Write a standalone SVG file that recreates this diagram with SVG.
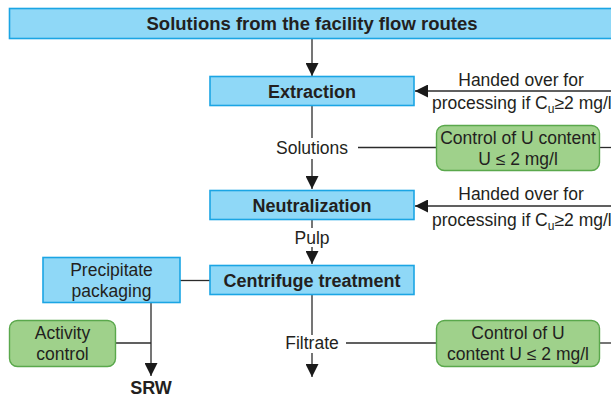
<svg xmlns="http://www.w3.org/2000/svg" width="611" height="398" viewBox="0 0 611 398">
<style>
.blue{fill:#8fd8f7;stroke:#1ba5e4;stroke-width:1.6}
.green{fill:#9fd18b;stroke:#5aa84c;stroke-width:1.4}
.t{font-family:"Liberation Sans",Arial,sans-serif;font-size:17.5px;fill:#231f20;text-anchor:middle}
.b{font-weight:bold;font-size:18px}
.l{text-anchor:start}
.ln{stroke:#2b2b2b;stroke-width:1.3;fill:none}
.sub{font-size:12px}
</style>
<defs>
<marker id="ah" markerUnits="userSpaceOnUse" markerWidth="14" markerHeight="13" refX="13" refY="6.5" orient="auto">
<path d="M0,0 L13,6.5 L0,13 z" fill="#1a1a1a"/>
</marker>
</defs>
<g id="connectors">
<line class="ln" x1="312" y1="39" x2="312" y2="76" marker-end="url(#ah)"/>
<line class="ln" x1="611" y1="91" x2="415" y2="91" marker-end="url(#ah)"/>
<line class="ln" x1="312" y1="105" x2="312" y2="138"/>
<line class="ln" x1="312" y1="159" x2="312" y2="189" marker-end="url(#ah)"/>
<line class="ln" x1="358" y1="147.5" x2="436" y2="147.5"/>
<line class="ln" x1="600" y1="147.5" x2="611" y2="147.5"/>
<line class="ln" x1="611" y1="206" x2="415" y2="206" marker-end="url(#ah)"/>
<line class="ln" x1="312" y1="220" x2="312" y2="228"/>
<line class="ln" x1="312" y1="247" x2="312" y2="264" marker-end="url(#ah)"/>
<line class="ln" x1="180" y1="280.5" x2="210" y2="280.5"/>
<line class="ln" x1="151" y1="302" x2="151" y2="376" marker-end="url(#ah)"/>
<line class="ln" x1="116" y1="343" x2="151" y2="343"/>
<line class="ln" x1="312" y1="295" x2="312" y2="335"/>
<line class="ln" x1="312" y1="353" x2="312" y2="377" marker-end="url(#ah)"/>
<line class="ln" x1="346" y1="343" x2="436" y2="343"/>
<line class="ln" x1="600" y1="343" x2="611" y2="343"/>
</g>
<g id="source">
<rect class="blue" x="9.5" y="8.5" width="610" height="30"/>
<text class="t b" x="312" y="29.5" style="font-size:18.5px">Solutions from the facility flow routes</text>
</g>
<g id="extraction">
<rect class="blue" x="210" y="76.5" width="204" height="29"/>
<text class="t b" x="312" y="97.5">Extraction</text>
</g>
<g id="handover1">
<text class="t" x="521" y="86">Handed over for</text>
<text class="t l" x="432" y="109">processing if C<tspan class="sub" dy="4">u</tspan><tspan dy="-4">≥2 mg/l</tspan></text>
</g>
<g id="solutions">
<text class="t" x="312" y="154">Solutions</text>
</g>
<g id="control1">
<rect class="green" x="436.5" y="125.5" width="163" height="45" rx="8"/>
<text class="t" x="518" y="144">Control of U content</text>
<text class="t" x="518" y="165">U ≤ 2 mg/l</text>
</g>
<g id="neutralization">
<rect class="blue" x="210" y="190.5" width="204" height="29"/>
<text class="t b" x="312" y="212">Neutralization</text>
</g>
<g id="handover2">
<text class="t" x="521" y="200">Handed over for</text>
<text class="t l" x="432" y="226">processing if C<tspan class="sub" dy="4">u</tspan><tspan dy="-4">≥2 mg/l</tspan></text>
</g>
<g id="pulp">
<text class="t" x="312" y="244">Pulp</text>
</g>
<g id="centrifuge">
<rect class="blue" x="210" y="265.5" width="204" height="29"/>
<text class="t b" x="312" y="286.5">Centrifuge treatment</text>
</g>
<g id="precipitate">
<rect class="blue" x="43" y="257.5" width="137" height="45"/>
<text class="t" x="111.5" y="276">Precipitate</text>
<text class="t" x="111.5" y="297">packaging</text>
</g>
<g id="activity">
<rect class="green" x="9.5" y="320.5" width="106" height="46" rx="8"/>
<text class="t" x="62.5" y="339">Activity</text>
<text class="t" x="62.5" y="360">control</text>
</g>
<g id="srw">
<text class="t b" x="151" y="394">SRW</text>
</g>
<g id="filtrate">
<text class="t" x="312" y="349">Filtrate</text>
</g>
<g id="control2">
<rect class="green" x="436.5" y="320.5" width="163" height="46" rx="8"/>
<text class="t" x="518" y="339">Control of U</text>
<text class="t" x="518" y="360">content U ≤ 2 mg/l</text>
</g>
</svg>
